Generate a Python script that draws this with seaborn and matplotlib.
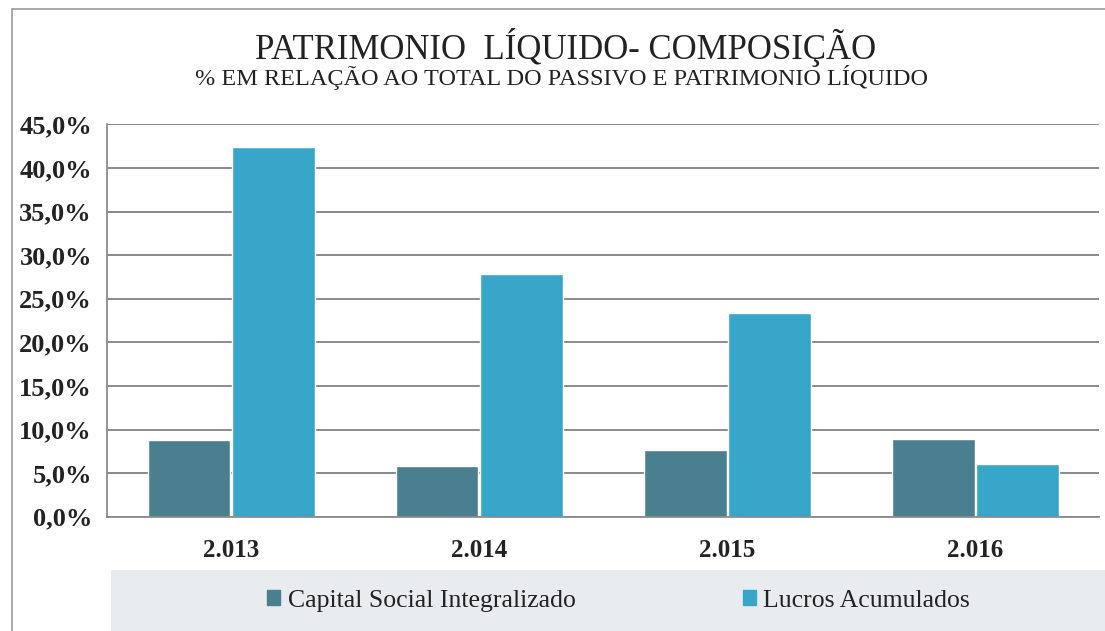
import numpy as np
import pandas as pd
import matplotlib
matplotlib.use("Agg")
import matplotlib.pyplot as plt
import seaborn as sns
from matplotlib.patches import Rectangle
from matplotlib.ticker import FuncFormatter, FixedLocator

# --- data ---
years = ["2.013", "2.014", "2.015", "2.016"]
capital_social = [8.8, 5.8, 7.7, 8.9]
lucros_acumulados = [42.4, 27.8, 23.4, 6.1]
series_names = ["Capital Social Integralizado", "Lucros Acumulados"]

df = pd.DataFrame({
    "ano": years * 2,
    "valor": capital_social + lucros_acumulados,
    "serie": [series_names[0]] * 4 + [series_names[1]] * 4,
})

sns.set_theme(style="white")
plt.rcParams["font.family"] = ["Liberation Serif", "DejaVu Serif"]

fig = plt.figure(figsize=(11.05, 6.31), dpi=100)
ax = fig.add_axes([0.097, 0.181, 0.898, 0.622])

palette = {series_names[0]: "#4a7f8f", series_names[1]: "#38a6c9"}
sns.barplot(data=df, x="ano", y="valor", hue="serie", palette=palette,
            width=0.68, gap=0.02, saturation=1, ax=ax, legend=False)

ax.set_ylim(0, 45)
ax.set_yticks(np.arange(0, 46, 5))
ax.yaxis.set_major_formatter(FuncFormatter(lambda v, _: f"{v:.1f}%".replace(".", ",")))
ax.grid(axis="y", color="#777777", linewidth=1.2)
ax.set_axisbelow(True)
ax.set_xlim(-0.5, 3.5)
ax.set_xlabel("")
ax.set_ylabel("")
for s in ["top", "right"]:
    ax.spines[s].set_visible(False)
ax.spines["left"].set_color("#888888")
ax.spines["bottom"].set_color("#888888")
ax.tick_params(axis="y", labelsize=19, length=7, color="#888888", direction="out", pad=4)
ax.tick_params(axis="x", labelsize=18, length=0, pad=16)
ax.xaxis.set_minor_locator(FixedLocator([0.5, 1.5, 2.5, 3.5]))
ax.tick_params(axis="x", which="minor", length=7, color="#888888", direction="out")
for lab in ax.get_yticklabels():
    lab.set_fontweight("bold")
    lab.set_color("#222222")
for lab in ax.get_xticklabels():
    lab.set_fontweight("bold")
    lab.set_color("#222222")

fig.text(0.512, 0.925, "PATRIMONIO  LÍQUIDO- COMPOSIÇÃO", ha="center", va="center",
         fontsize=25, color="#222222")
fig.text(0.508, 0.877, "% EM RELAÇÃO AO TOTAL DO PASSIVO E PATRIMONIO LÍQUIDO",
         ha="center", va="center", fontsize=17.5, color="#222222")

# outer chart frame and legend band
fig.patches.append(Rectangle((0.011, -0.01), 1.0, 0.995, transform=fig.transFigure,
                             fill=False, edgecolor="#999999", linewidth=1.2))
fig.patches.append(Rectangle((0.10, 0.0), 0.9, 0.097, transform=fig.transFigure,
                             facecolor="#e9ecee", edgecolor="none"))

handles = [Rectangle((0, 0), 1, 1, color=palette[n]) for n in series_names]
leg = fig.legend(handles, series_names, loc="center", bbox_to_anchor=(0.56, 0.048),
                 ncol=2, frameon=False, handlelength=0.5, handleheight=0.5,
                 columnspacing=6.5, handletextpad=0.3,
                 prop={"family": ["Liberation Serif", "DejaVu Serif"], "size": 18.5})
for t in leg.get_texts():
    t.set_color("#222222")

fig.savefig("out.png", dpi=100)
